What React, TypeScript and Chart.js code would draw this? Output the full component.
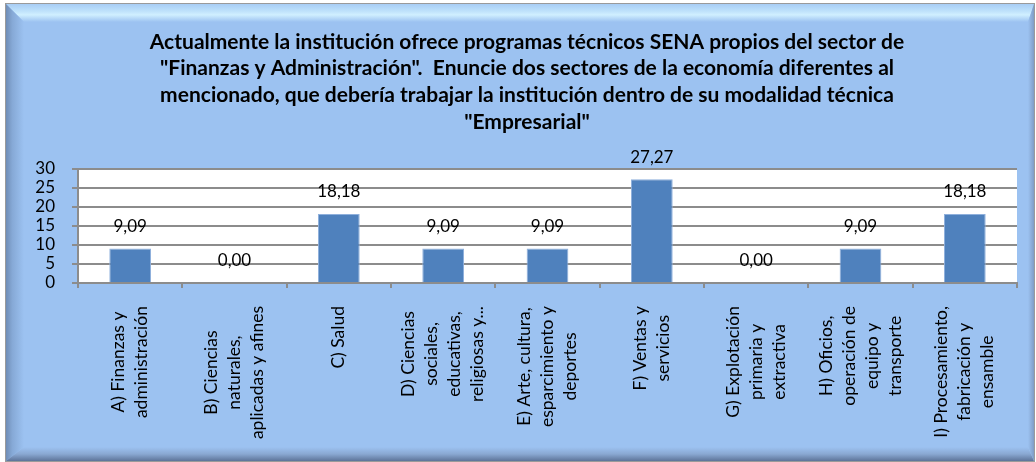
import React, { useEffect, useRef } from 'react';
import { Chart, registerables } from 'chart.js';

Chart.register(...registerables);

const titleLines: string[] = [
  'Actualmente la institución ofrece programas técnicos SENA propios del sector de',
  '"Finanzas y Administración".  Enuncie dos sectores de la economía diferentes al',
  'mencionado, que debería trabajar la institución dentro de su modalidad técnica',
  '"Empresarial"',
];

const categories: string[][] = [
  ['A) Finanzas y', 'administración'],
  ['B) Ciencias', 'naturales,', 'aplicadas y afines'],
  ['C) Salud'],
  ['D) Ciencias', 'sociales,', 'educativas,', 'religiosas y...'],
  ['E) Arte, cultura,', 'esparcimiento y', 'deportes'],
  ['F) Ventas y', 'servicios'],
  ['G) Explotación', 'primaria y', 'extractiva'],
  ['H) Oficios,', 'operación de', 'equipo y', 'transporte'],
  ['I) Procesamiento,', 'fabricación y', 'ensamble'],
];

const values: number[] = [9.09, 0.0, 18.18, 9.09, 9.09, 27.27, 0.0, 9.09, 18.18];

const yMin = 0;
const yMax = 30;
const yStep = 5;

const FONT = 'Lato, "Open Sans", "DejaVu Sans", sans-serif';

function poly(ctx: CanvasRenderingContext2D, pts: number[][], fill: CanvasGradient | string) {
  ctx.beginPath();
  ctx.moveTo(pts[0][0], pts[0][1]);
  for (let i = 1; i < pts.length; i++) ctx.lineTo(pts[i][0], pts[i][1]);
  ctx.closePath();
  ctx.fillStyle = fill;
  ctx.fill();
}

const framePlugin = {
  id: 'frame',
  beforeDraw(chart: any) {
    const ctx: CanvasRenderingContext2D = chart.ctx;
    const W = chart.width;
    const H = chart.height;
    const L = 6, T = 4, R = 1034, B = 461;
    const lw = 18, tw = 18, rw = 6, bw = 14;
    const base = '#9cc2f1';
    ctx.save();
    ctx.fillStyle = '#ffffff';
    ctx.fillRect(0, 0, W, H);
    ctx.fillStyle = base;
    ctx.fillRect(L, T, R - L, B - T);

    let g = ctx.createLinearGradient(0, T, 0, T + tw);
    g.addColorStop(0, '#a8cdf5');
    g.addColorStop(0.4, '#bfe2fb');
    g.addColorStop(0.6, '#d0efff');
    g.addColorStop(1, base);
    poly(ctx, [[L, T], [R, T], [R - rw, T + tw], [L + lw, T + tw]], g);

    g = ctx.createLinearGradient(L, 0, L + lw, 0);
    g.addColorStop(0, '#6f8db6');
    g.addColorStop(0.35, '#86a9d6');
    g.addColorStop(1, base);
    poly(ctx, [[L, T], [L + lw, T + tw], [L + lw, B - bw], [L, B]], g);

    g = ctx.createLinearGradient(0, B - bw, 0, B);
    g.addColorStop(0, base);
    g.addColorStop(0.5, '#8aa8d2');
    g.addColorStop(1, '#5d7499');
    poly(ctx, [[L, B], [L + lw, B - bw], [R - rw, B - bw], [R, B]], g);

    g = ctx.createLinearGradient(R - rw, 0, R, 0);
    g.addColorStop(0, base);
    g.addColorStop(1, '#7f9dc6');
    poly(ctx, [[R, T], [R, B], [R - rw, B - bw], [R - rw, T + tw]], g);

    ctx.strokeStyle = '#9a9a9a';
    ctx.lineWidth = 1;
    ctx.strokeRect(L - 0.5, T - 0.5, R - L + 1, B - T + 1);

    const a = chart.chartArea;
    ctx.fillStyle = '#ffffff';
    ctx.fillRect(a.left, a.top, a.right - a.left, a.bottom - a.top);
    ctx.restore();
  },
};

const labelsPlugin = {
  id: 'customLabels',
  afterDatasetsDraw(chart: any) {
    const ctx: CanvasRenderingContext2D = chart.ctx;
    const meta = chart.getDatasetMeta(0);
    ctx.save();
    ctx.font = `17px ${FONT}`;
    ctx.fillStyle = '#000000';
    ctx.textAlign = 'center';
    ctx.textBaseline = 'middle';
    meta.data.forEach((el: any, i: number) => {
      const txt = values[i].toFixed(2).replace('.', ',');
      ctx.fillText(txt, el.x, el.y - 22);
    });
    ctx.restore();
  },
  afterDraw(chart: any) {
    const ctx: CanvasRenderingContext2D = chart.ctx;
    const xs = chart.scales.x;
    const a = chart.chartArea;
    ctx.save();
    ctx.font = `17.5px ${FONT}`;
    ctx.fillStyle = '#000000';
    ctx.textAlign = 'center';
    ctx.textBaseline = 'middle';
    const lineGap = 23;
    categories.forEach((lines, i) => {
      const cx = xs.getPixelForTick(i);
      const maxW = Math.max(...lines.map((l) => ctx.measureText(l).width));
      const cy = a.bottom + 23 + maxW / 2;
      lines.forEach((line, j) => {
        const lx = cx + (j - (lines.length - 1) / 2) * lineGap;
        ctx.save();
        ctx.translate(lx, cy);
        ctx.rotate(-Math.PI / 2);
        ctx.fillText(line, 0, 0);
        ctx.restore();
      });
    });
    ctx.font = `bold 21px ${FONT}`;
    titleLines.forEach((line, i) => {
      ctx.fillText(line, 527, 42 + i * 26.7);
    });
    ctx.restore();
  },
};

export default function App() {
  const ref = useRef<HTMLCanvasElement | null>(null);
  useEffect(() => {
    if (!ref.current) return;
    const chart = new Chart(ref.current, {
      type: 'bar',
      data: {
        labels: categories.map((c) => c.join(' ')),
        datasets: [
          {
            data: values,
            backgroundColor: '#4f81bd',
            borderColor: '#8fb0dc',
            borderWidth: 1,
            barPercentage: 0.4,
            categoryPercentage: 1.0,
          },
        ],
      },
      options: {
        responsive: false,
        animation: false,
        devicePixelRatio: 1,
        layout: { padding: { left: 0, top: 169, right: 19, bottom: 0 } },
        plugins: {
          legend: { display: false },
          title: { display: false },
          tooltip: { enabled: false },
        },
        scales: {
          x: {
            type: 'category',
            offset: true,
            grid: {
              drawOnChartArea: false,
              drawTicks: true,
              tickLength: 5,
              color: '#8c8c8c',
              lineWidth: 2,
              offset: true,
            },
            border: { color: '#8c8c8c', width: 2 },
            ticks: { display: false },
            afterFit: (s: any) => {
              s.height = 179;
            },
          },
          y: {
            min: yMin,
            max: yMax,
            ticks: {
              stepSize: yStep,
              autoSkip: false,
              color: '#000000',
              font: { family: FONT, size: 17 },
              padding: 17,
            },
            grid: { color: '#8c8c8c', lineWidth: 2, tickLength: 6, drawTicks: true },
            border: { color: '#8c8c8c', width: 2 },
            afterFit: (s: any) => {
              s.width = 78;
            },
          },
        },
      },
      plugins: [framePlugin, labelsPlugin],
    });
    return () => chart.destroy();
  }, []);
  return (
    <div style={{ position: 'fixed', left: 0, top: 0, width: 1036, height: 462 }}>
      <canvas ref={ref} width={1036} height={462} style={{ display: 'block' }} />
    </div>
  );
}
